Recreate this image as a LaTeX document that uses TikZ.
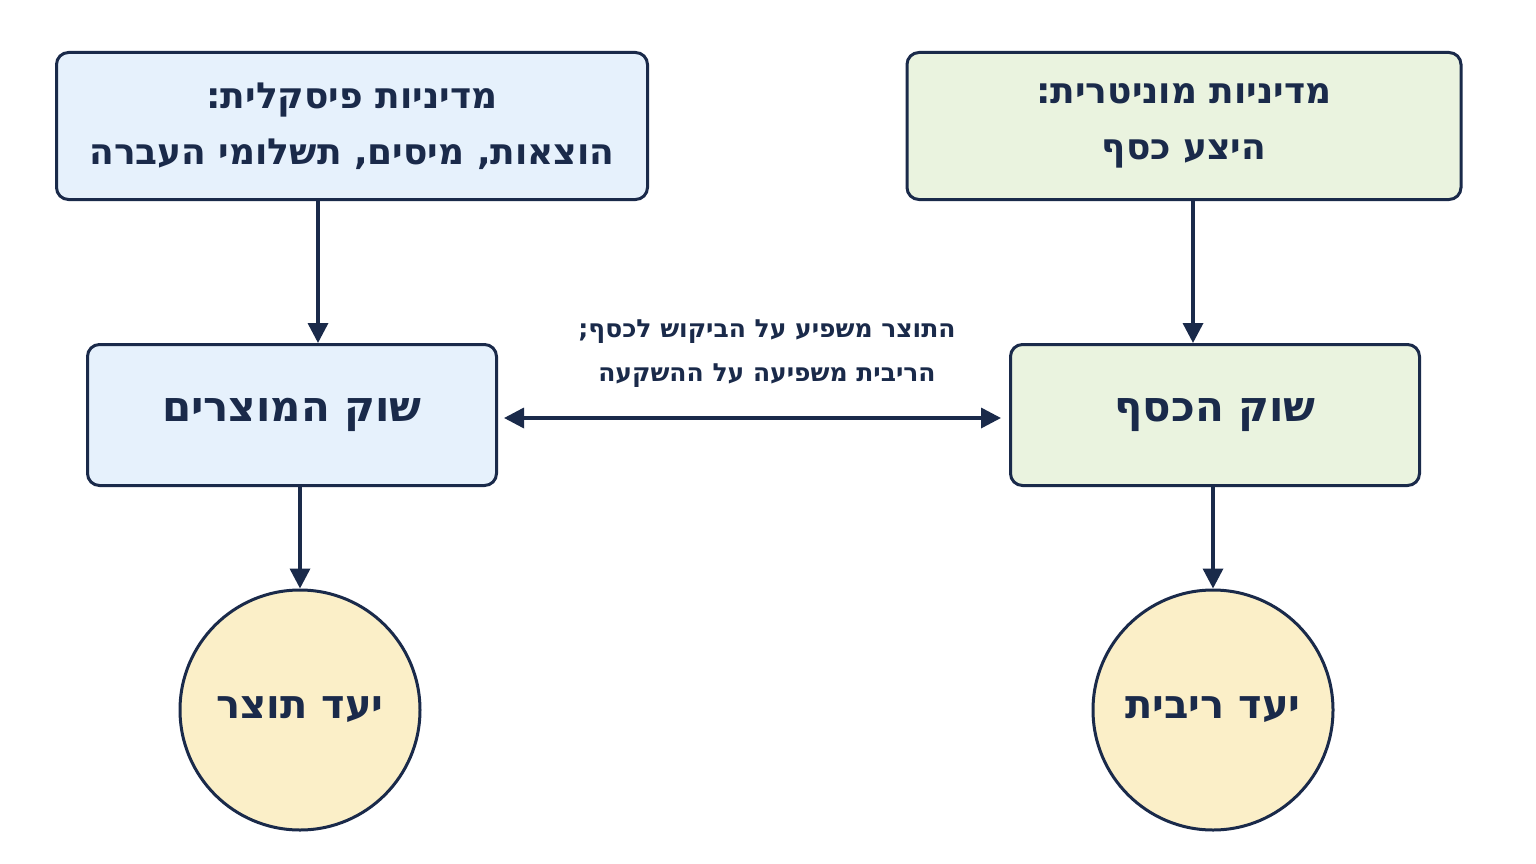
\documentclass[tikz,border=0pt]{standalone}
\usepackage{fontspec}
\setmainfont{DejaVu Sans}
\usetikzlibrary{arrows.meta,positioning}
\TeXXeTstate=1
\newcommand{\heb}[1]{\beginR #1\endR}
\definecolor{navy}{HTML}{1A2A4A}
\definecolor{fillblue}{HTML}{E6F1FC}
\definecolor{fillgreen}{HTML}{EAF3DF}
\definecolor{fillsand}{HTML}{FBEFC8}
\tikzset{
  box/.style={draw=navy, line width=3pt, rounded corners=12pt, align=center, text=navy, inner sep=0pt},
  goal/.style={draw=navy, line width=3pt, circle, minimum size=240pt, fill=fillsand, text=navy, font=\fontsize{40}{44}\selectfont\bfseries},
  arr/.style={draw=navy, line width=3.5pt, -{Triangle[length=20pt,width=20pt]}},
}
\begin{document}
\begin{tikzpicture}[x=1pt,y=-1pt]
\useasboundingbox[fill=white] (0,0) rectangle (1536,864);

\node (fiscal) at (352,126) [box, fill=fillblue, minimum width=591pt, minimum height=147pt, font=\fontsize{36}{56}\selectfont\bfseries]
  {\heb{מדיניות פיסקלית:}\\ \heb{הוצאות, מיסים, תשלומי העברה}};
\node (monetary) at (1184,126) [box, fill=fillgreen, minimum width=554pt, minimum height=147pt, font=\fontsize{36}{56}\selectfont\bfseries]
  {\heb{מדיניות מוניטרית:}\\ \heb{היצע כסף}};
\node (goods) at (292,415) [box, fill=fillblue, minimum width=409pt, minimum height=141pt, font=\fontsize{42}{46}\selectfont\bfseries]
  {\heb{שוק המוצרים}};
\node (money) at (1215,415) [box, fill=fillgreen, minimum width=409pt, minimum height=141pt, font=\fontsize{42}{46}\selectfont\bfseries]
  {\heb{שוק הכסף}};
\node (output) at (300,710) [goal] {\heb{יעד תוצר}};
\node (rate) at (1213,710) [goal] {\heb{יעד ריבית}};
\node (link) at (767,354) [align=center, text=navy, font=\fontsize{25}{44}\selectfont\bfseries]
  {\heb{התוצר משפיע על הביקוש לכסף;}\\ \heb{הריבית משפיעה על ההשקעה}};

\draw[arr] ([xshift=-34pt]fiscal.south) -- ([xshift=26pt]goods.north);
\draw[arr] ([xshift=9pt]monetary.south) -- ([xshift=-22pt]money.north);
\draw[arr] ([xshift=8pt]goods.south) -- (output.north);
\draw[arr] ([xshift=-2pt]money.south) -- (rate.north);
\draw[arr, {Triangle[length=20pt,width=20pt]}-{Triangle[length=20pt,width=20pt]}] ([shift={(6pt,-3pt)}]goods.east) -- ([shift={(-8pt,-3pt)}]money.west);
\end{tikzpicture}
\end{document}
